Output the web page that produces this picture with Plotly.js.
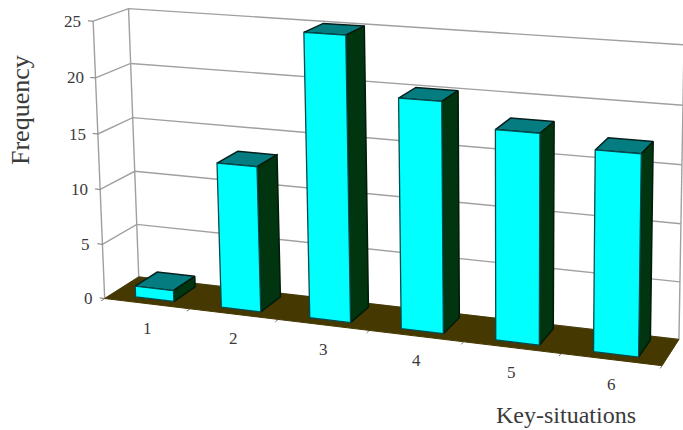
<!DOCTYPE html>
<html>
<head>
<meta charset="utf-8">
<script src="https://cdn.plot.ly/plotly-3.0.1.min.js"></script>
<style>html,body{margin:0;padding:0;background:#fff;overflow:hidden}#chart{width:683px;height:430px}</style>
</head>
<body>
<div id="chart"></div>
<script>
// Frequency of each key-situation
const categories = ['1', '2', '3', '4', '5', '6'];
const frequencies = [1, 13, 25, 20, 18, 17];
const valueTicks = [0, 5, 10, 15, 20, 25];

// Where the chart box sits on the page: [category, depth, value, pageX, pageY]
const boxAnchors = [
  [0, 0, 0, 106, 298], [0, 0, 10, 100, 188], [0, 0, 25, 92, 22],
  [0, 1, 0, 138, 278], [0, 1, 10, 134, 172], [0, 1, 25, 130, 8],
  [6, 1, 0, 679, 338], [6, 1, 25, 684, 45], [6, 0, 0, 662, 367]
];

// Least-squares fit of a perspective camera to the box anchors
function fitCamera(anchors) {
  const n = 11, A = Array.from({length: n}, () => new Array(n + 1).fill(0));
  const add = (row, rhs) => {
    for (let i = 0; i < n; i++) {
      for (let j = 0; j < n; j++) A[i][j] += row[i] * row[j];
      A[i][n] += row[i] * rhs;
    }
  };
  anchors.forEach(([u, v, h, px, py]) => {
    add([u, v, h, 1, 0, 0, 0, 0, -px * u, -px * v, -px * h], px);
    add([0, 0, 0, 0, u, v, h, 1, -py * u, -py * v, -py * h], py);
  });
  for (let c = 0; c < n; c++) {
    let p = c;
    for (let r = c + 1; r < n; r++) if (Math.abs(A[r][c]) > Math.abs(A[p][c])) p = r;
    [A[c], A[p]] = [A[p], A[c]];
    for (let r = 0; r < n; r++) {
      if (r === c) continue;
      const f = A[r][c] / A[c][c];
      for (let k = c; k <= n; k++) A[r][k] -= f * A[c][k];
    }
  }
  return A.map((row, i) => row[n] / row[i]);
}

const cam = fitCamera(boxAnchors);
function project(u, v, h) {
  const w = cam[8] * u + cam[9] * v + cam[10] * h + 1;
  return [(cam[0] * u + cam[1] * v + cam[2] * h + cam[3]) / w,
          (cam[4] * u + cam[5] * v + cam[6] * h + cam[7]) / w];
}

// Collects projected paths into one x/y pair, with gaps between them
function pathSet(paths) {
  const x = [], y = [];
  paths.forEach(path => {
    path.forEach(p => { const q = project(p[0], p[1], p[2]); x.push(q[0]); y.push(q[1]); });
    x.push(null); y.push(null);
  });
  return {x, y};
}
const nCat = categories.length;
const topValue = valueTicks[valueTicks.length - 1];

const barHalf = 0.225, barCentre = 0.51, depthFront = 0.2, depthBack = 0.86;
const fronts = [], sides = [], tops = [];
frequencies.forEach((f, i) => {
  const a = i + barCentre - barHalf, b = i + barCentre + barHalf, d0 = depthFront, d1 = depthBack;
  fronts.push([[a, d0, 0], [b, d0, 0], [b, d0, f], [a, d0, f], [a, d0, 0]]);
  sides.push([[b, d0, 0], [b, d1, 0], [b, d1, f], [b, d0, f], [b, d0, 0]]);
  tops.push([[a, d0, f], [b, d0, f], [b, d1, f], [a, d1, f], [a, d0, f]]);
});

const gridPaths = [];
valueTicks.forEach(t => {
  gridPaths.push([[0, 0, t], [0, 1, t], [nCat, 1, t]]);
});
gridPaths.push([[0, 0, 0], [0, 0, topValue]]);
gridPaths.push([[0, 1, 0], [0, 1, topValue]]);
gridPaths.push([[nCat, 1, 0], [nCat, 1, topValue]]);

const tickPaths = [];
valueTicks.forEach(t => tickPaths.push([[0, 0, t], [-0.06, 0, t]]));
for (let i = 0; i <= nCat; i++) tickPaths.push([[i, 0, 0], [i, -0.1, 0]]);

const floorPath = [[[0, 0, 0], [nCat, 0, 0], [nCat, 1, 0], [0, 1, 0], [0, 0, 0]]];

function faces(paths, fill, edge, width) {
  return Object.assign({
    type: 'scatter', mode: 'lines', fill: 'toself', fillcolor: fill,
    line: {color: edge, width: width}, hoverinfo: 'skip'
  }, pathSet(paths));
}
function lines(paths, color, width) {
  return Object.assign({
    type: 'scatter', mode: 'lines', line: {color: color, width: width}, hoverinfo: 'skip'
  }, pathSet(paths));
}

const traces = [
  lines(gridPaths, '#a0a0a0', 1.4),
  lines(tickPaths, '#777777', 1),
  faces(floorPath, '#453800', '#453800', 1),
  faces(tops, '#047c80', '#04201f', 1.5),
  faces(sides, '#013510', '#011a0a', 1.5),
  faces(fronts, '#00ffff', '#064a4c', 1.3)
];

const serif = '"Liberation Serif", serif';
const labelFont = {family: serif, size: 17, color: '#3a3a3a'};
const annotations = [];
valueTicks.forEach(t => {
  const p = project(0, 0, t);
  annotations.push({x: p[0] - 10, y: p[1], text: String(t), xref: 'x', yref: 'y',
    xanchor: 'right', yanchor: 'middle', showarrow: false, font: labelFont});
});
categories.forEach((c, i) => {
  const p = project(i + 0.5, 0, 0);
  annotations.push({x: p[0], y: p[1] + 24.5, text: c, xref: 'x', yref: 'y',
    xanchor: 'center', yanchor: 'middle', showarrow: false, font: labelFont});
});
annotations.push({x: 20, y: 110, text: 'Frequency', xref: 'x', yref: 'y', textangle: -90,
  xanchor: 'center', yanchor: 'middle', showarrow: false,
  font: {family: serif, size: 26, color: '#3a3a3a'}});
annotations.push({x: 566, y: 415, text: 'Key-situations', xref: 'x', yref: 'y',
  xanchor: 'center', yanchor: 'middle', showarrow: false,
  font: {family: serif, size: 24, color: '#3a3a3a'}});

Plotly.newPlot('chart', traces, {
  width: 683, height: 430,
  margin: {l: 0, r: 0, t: 0, b: 0},
  paper_bgcolor: '#ffffff', plot_bgcolor: '#ffffff',
  showlegend: false,
  xaxis: {range: [0, 683], visible: false, fixedrange: true},
  yaxis: {range: [430, 0], visible: false, fixedrange: true},
  annotations: annotations
}, {displayModeBar: false, staticPlot: true});
</script>
</body>
</html>
